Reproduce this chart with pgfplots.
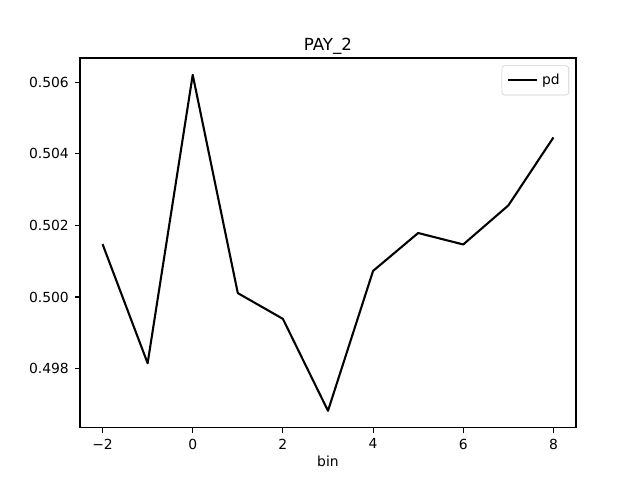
\documentclass[border=0pt]{standalone}
\usepackage{pgfplots}
\pgfplotsset{compat=1.18}
\usepackage{fontspec}
\setmainfont{DejaVu Sans}
\begin{document}
\fontsize{10pt}{12pt}\selectfont
\begin{tikzpicture}
\path[use as bounding box] (0,0) rectangle (460.8pt,345.6pt);
\begin{axis}[
  at={(57.6pt,37.7pt)}, anchor=south west,
  scale only axis, width=357.1pt, height=266.1pt,
  xmin=-2.5, xmax=8.5, ymin=0.49635, ymax=0.50668,
  xtick={-2,0,2,4,6,8},
  xticklabels={−2,0,2,4,6,8},
  ytick={0.498,0.500,0.502,0.504,0.506},
  yticklabels={0.498,0.500,0.502,0.504,0.506},
  scaled y ticks=false,
  tick align=outside, tick pos=left,
  major tick length=3.5pt,
  every tick/.style={black, line width=0.8pt},
  axis line style={line width=0.8pt},
  xticklabel style={font=\fontsize{10pt}{12pt}\selectfont, yshift=-1pt},
  yticklabel style={font=\fontsize{10pt}{12pt}\selectfont, xshift=-1pt},
  xlabel={bin},
  xlabel style={font=\fontsize{10pt}{12pt}\selectfont, yshift=2pt},
  title={PAY\_2},
  title style={font=\fontsize{12pt}{14pt}\selectfont, at={(axis description cs:0.5,1)}, anchor=south, yshift=-7pt},
  legend style={at={(axis description cs:1,1)}, xshift=-5pt, yshift=-5.3pt, anchor=north east, draw=black!20, rounded corners=2pt,
    font=\fontsize{10pt}{12pt}\selectfont, inner xsep=3.5pt, inner ysep=4.5pt,
    nodes={inner xsep=3pt, inner ysep=1.5pt}},
  legend cell align=left,
  legend image code/.code={\draw[#1, line width=1.5pt] (0pt,0pt) -- (21pt,0pt);},
]
\addplot[black, line width=1.5pt, line join=round] coordinates {
(-2,0.50148) (-1,0.49815) (0,0.50621) (1,0.50011) (2,0.49939) (3,0.49682)
(4,0.50073) (5,0.50179) (6,0.50147) (7,0.50256) (8,0.50446)
};
\addlegendentry{pd}
\end{axis}
\end{tikzpicture}
\end{document}
